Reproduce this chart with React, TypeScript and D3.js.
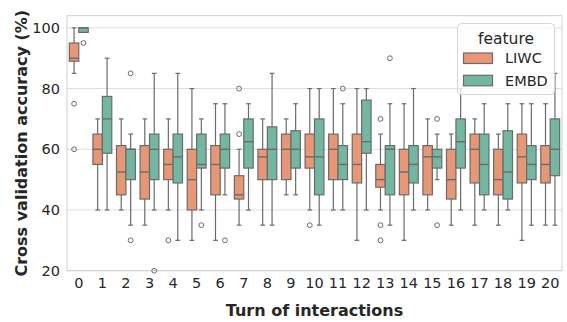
import React from 'react';
import * as d3 from 'd3';

// turns of interaction (x categories)
const turns = d3.range(0, 21).map(String);
const features = ['LIWC', 'EMBD'];
const yTicks = [20, 40, 60, 80, 100];

// box stats (whisker low, q1, median, q3, whisker high)
const liwcLow = [85, 40, 40, 35, 40, 30, 30, 35, 35, 45, 40, 40, 30, 40, 30, 40, 35, 35, 35, 30, 35];
const liwcQ1 = [89, 55, 45, 43.6, 50, 40, 45, 43.6, 50, 50, 53.8, 50, 48.9, 47.5, 45, 45, 43.6, 48.9, 45, 48.9, 48.9];
const liwcMed = [90, 60, 52.5, 52.5, 55, 50, 55, 45, 57.5, 60, 57.5, 60, 55, 50, 52.5, 57.5, 50, 60, 50, 57.5, 55];
const liwcQ3 = [95, 65, 61.2, 61.2, 60, 60, 61.2, 51.3, 60, 65, 65, 65, 65, 55, 60, 61.2, 60, 65, 60, 65, 61.2];
const liwcHigh = [100, 70, 70, 70, 70, 80, 75, 60, 70, 70, 80, 80, 80, 65, 75, 70, 65, 70, 65, 75, 75];
const liwcOut = [[75, 60], [], [], [], [30], [], [], [80, 65], [], [], [35], [], [], [70, 35, 30], [], [], [], [], [], [], []];

const embdLow = [98.5, 40, 35, 40, 30, 40, 45, 40, 35, 45, 35, 40, 40, 35, 40, 50, 40, 40, 40, 35, 35];
const embdQ1 = [98.5, 58.7, 50, 50, 48.9, 53.8, 53.8, 53.8, 50, 53.8, 45, 50, 58.7, 45, 48.9, 53.8, 53.8, 45, 43.6, 50, 51.3];
const embdMed = [100, 70, 60, 60, 57.5, 55, 60, 62.5, 60, 60, 57.5, 55, 62.5, 60, 55, 57.5, 62.5, 55, 52.5, 55, 60];
const embdQ3 = [100, 77.4, 60, 65, 65, 65, 65, 70, 67.4, 66.1, 70, 61.2, 76.2, 61.2, 61.2, 60, 70, 65, 66.1, 61.2, 70];
const embdHigh = [100, 90, 65, 85, 85, 70, 75, 75, 85, 75, 80, 75, 80, 75, 80, 65, 80, 75, 75, 75, 85];
const embdOut = [[95], [], [85, 30], [20], [], [35], [30], [], [], [], [], [80], [], [90], [], [70, 35], [], [], [], [], []];

const colors = { LIWC: '#e99675', EMBD: '#71b7a1' };
const line = '#6b6b6b';
const text = '#262626';
const grid = '#dedede';

const W = 567, H = 322;
const left = 67, right = 562, top = 15.7, bottom = 270.7;

export default function App() {
  const x = d3.scaleBand().domain(turns).range([left, right]).padding(0);
  const bw = x.bandwidth();
  const hue = d3.scaleBand().domain(features).range([0.1 * bw, 0.9 * bw]);
  const y = d3.scaleLinear().domain([20, 104]).range([bottom, top]);
  const boxW = hue.bandwidth();
  const capW = boxW / 2;

  const series = [
    { name: 'LIWC', low: liwcLow, q1: liwcQ1, med: liwcMed, q3: liwcQ3, high: liwcHigh, out: liwcOut },
    { name: 'EMBD', low: embdLow, q1: embdQ1, med: embdMed, q3: embdQ3, high: embdHigh, out: embdOut },
  ];

  return (
    <svg width={W} height={H} style={{ position: 'absolute', left: 0, top: 0 }} fontFamily="DejaVu Sans">
      <rect width={W} height={H} fill="white" />
      {/* grid */}
      {yTicks.map(t => (
        <line key={t} x1={left} x2={right} y1={y(t)} y2={y(t)} stroke={grid} strokeWidth={1} />
      ))}
      <rect x={left} y={top} width={right - left} height={bottom - top} fill="none" stroke="#d0d0d0" strokeWidth={1} />

      {/* boxes */}
      {series.map(s => turns.map((t, i) => {
        const cx = x(t) + hue(s.name) + boxW / 2;
        const x0 = cx - boxW / 2;
        return (
          <g key={s.name + t}>
            <line x1={cx} x2={cx} y1={y(s.high[i])} y2={y(s.q3[i])} stroke={line} strokeWidth={1.2} />
            <line x1={cx} x2={cx} y1={y(s.q1[i])} y2={y(s.low[i])} stroke={line} strokeWidth={1.2} />
            <line x1={cx - capW / 2} x2={cx + capW / 2} y1={y(s.high[i])} y2={y(s.high[i])} stroke={line} strokeWidth={1.2} />
            <line x1={cx - capW / 2} x2={cx + capW / 2} y1={y(s.low[i])} y2={y(s.low[i])} stroke={line} strokeWidth={1.2} />
            <rect x={x0} y={y(s.q3[i])} width={boxW} height={Math.max(y(s.q1[i]) - y(s.q3[i]), 0.5)}
              fill={colors[s.name]} stroke={line} strokeWidth={1.2} />
            <line x1={x0} x2={x0 + boxW} y1={y(s.med[i])} y2={y(s.med[i])} stroke={line} strokeWidth={1.4} />
            {s.out[i].map((v, k) => (
              <circle key={k} cx={cx} cy={y(v)} r={2.4} fill="none" stroke={line} strokeWidth={1} />
            ))}
          </g>
        );
      }))}

      {/* y axis */}
      {yTicks.map(t => (
        <text key={t} x={60} y={y(t)} dy="0.35em" textAnchor="end" fontSize={14.5} fill={text}>{t}</text>
      ))}
      {/* x axis */}
      {turns.map(t => (
        <text key={t} x={x(t) + bw / 2} y={288} textAnchor="middle" fontSize={14.5} fill={text}>{t}</text>
      ))}
      <text x={(left + right) / 2} y={316} textAnchor="middle" fontSize={16} fontWeight="bold" fill={text}>
        Turn of interactions
      </text>
      <text transform={`translate(27,${(top + bottom) / 2}) rotate(-90)`} textAnchor="middle" fontSize={16}
        fontWeight="bold" fill={text}>
        Cross validation accuracy (%)
      </text>

      {/* legend */}
      <g>
        <rect x={457.5} y={23.5} width={97} height={71} rx={4} fill="white" fillOpacity={0.8} stroke="#d6d6d6" />
        <text x={506} y={44} textAnchor="middle" fontSize={15.5} fill={text}>feature</text>
        {features.map((f, i) => (
          <g key={f}>
            <rect x={463.5} y={53 + i * 22.3} width={29} height={10.5} fill={colors[f]} stroke={line} strokeWidth={1.2} />
            <text x={505} y={58.3 + i * 22.3} dy="0.35em" fontSize={14.5} fill={text}>{f}</text>
          </g>
        ))}
      </g>
    </svg>
  );
}
